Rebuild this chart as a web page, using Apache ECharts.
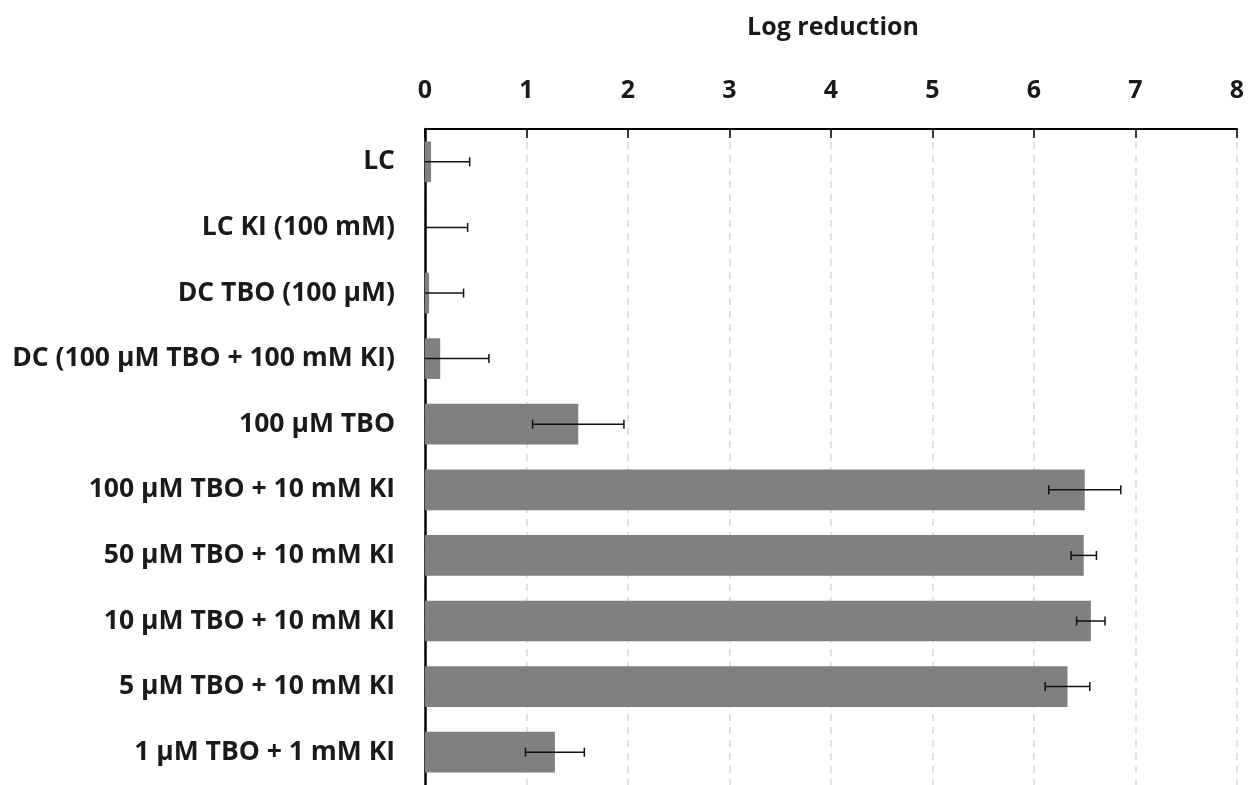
<!DOCTYPE html>
<html><head><meta charset="utf-8">
<script src="https://cdn.jsdelivr.net/npm/echarts@6/dist/echarts.min.js"></script>
<style>html,body{margin:0;padding:0;background:#fff}#c{width:1248px;height:785px}</style>
</head><body><div id="c"></div>
<script>
var categories = ['LC','LC KI (100 mM)','DC TBO (100 \u00b5M)','DC (100 \u00b5M TBO + 100 mM KI)','100 \u00b5M TBO','100 \u00b5M TBO + 10 mM KI','50 \u00b5M TBO + 10 mM KI','10 \u00b5M TBO + 10 mM KI','5 \u00b5M TBO + 10 mM KI','1 \u00b5M TBO + 1 mM KI'];
var values = [0.06, 0.0, 0.04, 0.15, 1.51, 6.50, 6.49, 6.56, 6.33, 1.28];
var errors = [0.38, 0.42, 0.34, 0.48, 0.45, 0.355, 0.125, 0.14, 0.22, 0.29];
var tickLabels = ['0','1','2','3','4','5','6','7','8'];

var FONT = 'Open Sans';
var chart = echarts.init(document.getElementById('c'));
var errData = values.map(function(v,i){ return [i, v, errors[i]]; });
chart.setOption({
  animation:false,
  title:{text:'Log reduction', left:828, top:10, textAlign:'center',
    textStyle:{fontFamily:FONT, fontWeight:'bold', fontSize:25, color:'#1a1a1a'}},
  grid:{left:425, right:11, top:129, height:662},
  xAxis:{type:'value', position:'top', min:0, max:8, interval:1,
    axisLine:{show:true, lineStyle:{color:'#000', width:2}},
    axisTick:{show:true, inside:true, length:9, lineStyle:{color:'#000', width:1.5}},
    axisLabel:{margin:26, fontFamily:FONT, fontWeight:'bold', fontSize:25, color:'#1a1a1a',
      formatter:function(v){ return tickLabels[Math.round(v)]; }},
    splitLine:{show:true, lineStyle:{color:'#d9d9d9', type:[7,6], width:1.5}}},
  yAxis:{type:'category', inverse:true, data:categories,
    axisLine:{show:true, lineStyle:{color:'#000', width:2.5}},
    axisTick:{show:false},
    axisLabel:{margin:30, fontFamily:FONT, fontWeight:'bold', fontSize:26.5, color:'#1a1a1a'}},
  series:[
    {type:'bar', data:values, barCategoryGap:'38%', itemStyle:{color:'#808080'}, z:2},
    {type:'custom', data:errData, z:5,
      renderItem:function(params, api){
        var i = api.value(0), v = api.value(1), e = api.value(2);
        var lo = Math.max(0, v - e), hi = v + e;
        var pLo = api.coord([lo, i]), pHi = api.coord([hi, i]);
        var h = 4.5;
        var st = {stroke:'#111', lineWidth:1.5};
        var ch = [
          {type:'line', shape:{x1:pLo[0], y1:pLo[1], x2:pHi[0], y2:pHi[1]}, style:st},
          {type:'line', shape:{x1:pHi[0], y1:pHi[1]-h, x2:pHi[0], y2:pHi[1]+h}, style:st}
        ];
        if (v - e > 0) ch.push({type:'line', shape:{x1:pLo[0], y1:pLo[1]-h, x2:pLo[0], y2:pLo[1]+h}, style:st});
        return {type:'group', children:ch};
      }}
  ]
});
</script></body></html>
